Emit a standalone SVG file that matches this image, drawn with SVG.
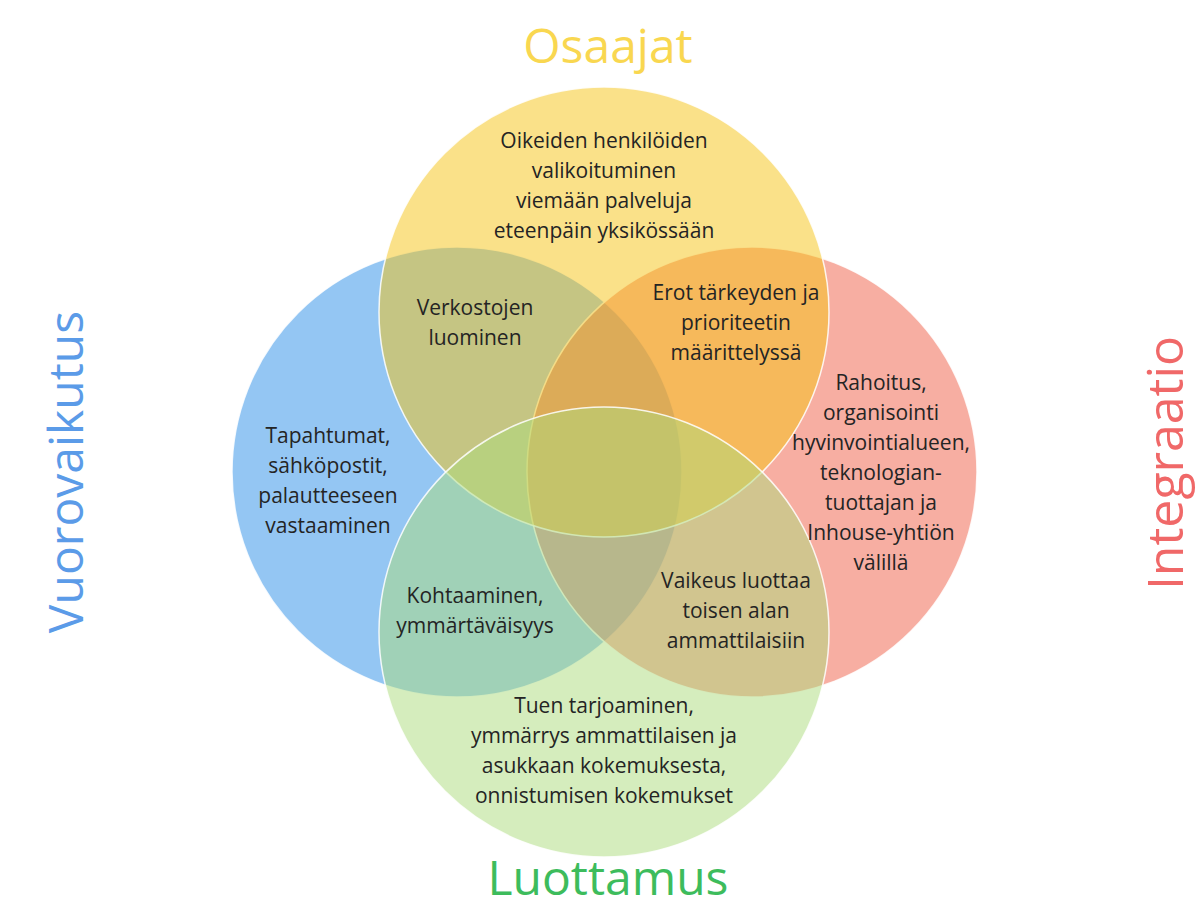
<svg xmlns="http://www.w3.org/2000/svg" width="1203" height="908" viewBox="0 0 1203 908">
<style>
.c{stroke:#ffffff;stroke-width:1.5;stroke-opacity:0.85}
.t{font-family:"Open Sans","Noto Sans",sans-serif;font-size:21px;fill:#242424;text-anchor:middle}
.h{font-family:"Open Sans","Noto Sans",sans-serif;font-size:48px;text-anchor:middle}
</style>
<rect width="1203" height="908" fill="#ffffff"/>
<g id="circles">
<circle id="c-blue" class="c" cx="457" cy="472" r="225" fill="#298DE7" fill-opacity="0.5"/>
<circle id="c-red" class="c" cx="752" cy="472" r="225" fill="#EF5D45" fill-opacity="0.5"/>
<circle id="c-yellow" class="c" cx="604" cy="312" r="225" fill="#F5C314" fill-opacity="0.5"/>
<circle id="c-green" class="c" cx="604" cy="632" r="225" fill="#ABDB7B" fill-opacity="0.5"/>
</g>
<g id="titles">
<text id="title-osaajat" class="h" x="608" y="63" fill="#F9D750">Osaajat</text>
<text id="title-luottamus" class="h" x="608" y="895" fill="#3DBC5C">Luottamus</text>
<text id="title-vuorovaikutus" class="h" transform="translate(83,472) rotate(-90)" fill="#5B9BE8">Vuorovaikutus</text>
<text id="title-integraatio" class="h" transform="translate(1183,463) rotate(-90)" fill="#F06868" style="font-size:50px">Integraatio</text>
</g>
<g id="n-osaajat">
<text class="t" x="604" y="148">Oikeiden henkilöiden</text>
<text class="t" x="604" y="178">valikoituminen</text>
<text class="t" x="604" y="208">viemään palveluja</text>
<text class="t" x="604" y="238">eteenpäin yksikössään</text>
</g>
<g id="n-verkostojen">
<text class="t" x="475" y="315">Verkostojen</text>
<text class="t" x="475" y="345">luominen</text>
</g>
<g id="n-erot">
<text class="t" x="736" y="300">Erot tärkeyden ja</text>
<text class="t" x="736" y="330">prioriteetin</text>
<text class="t" x="736" y="360">määrittelyssä</text>
</g>
<g id="n-vuorovaikutus">
<text class="t" x="328" y="443">Tapahtumat,</text>
<text class="t" x="328" y="473">sähköpostit,</text>
<text class="t" x="328" y="503">palautteeseen</text>
<text class="t" x="328" y="533">vastaaminen</text>
</g>
<g id="n-integraatio">
<text class="t" x="881" y="390">Rahoitus,</text>
<text class="t" x="881" y="420">organisointi</text>
<text class="t" x="881" y="450">hyvinvointialueen,</text>
<text class="t" x="881" y="480">teknologian-</text>
<text class="t" x="881" y="510">tuottajan ja</text>
<text class="t" x="881" y="540">Inhouse-yhtiön</text>
<text class="t" x="881" y="570">välillä</text>
</g>
<g id="n-kohtaaminen">
<text class="t" x="475" y="603">Kohtaaminen,</text>
<text class="t" x="475" y="633">ymmärtäväisyys</text>
</g>
<g id="n-vaikeus">
<text class="t" x="736" y="588">Vaikeus luottaa</text>
<text class="t" x="736" y="618">toisen alan</text>
<text class="t" x="736" y="648">ammattilaisiin</text>
</g>
<g id="n-luottamus">
<text class="t" x="604" y="713">Tuen tarjoaminen,</text>
<text class="t" x="604" y="743">ymmärrys ammattilaisen ja</text>
<text class="t" x="604" y="773">asukkaan kokemuksesta,</text>
<text class="t" x="604" y="803">onnistumisen kokemukset</text>
</g>
<g id="connectors"/>
</svg>
